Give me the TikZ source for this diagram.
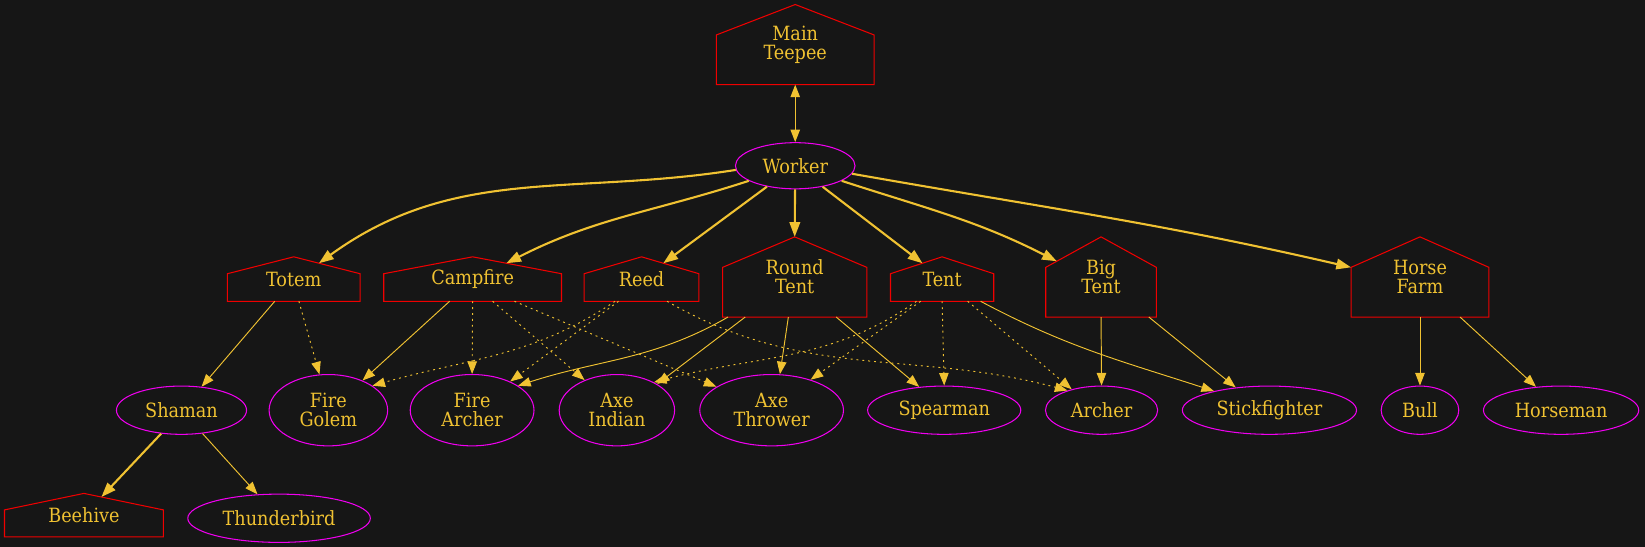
\documentclass[tikz,border=0pt]{standalone}
\usepackage{fontspec}
\setmainfont{DejaVu Serif Condensed}
\usepackage{tikz}
\usetikzlibrary{arrows.meta,shapes.geometric,calc}
\definecolor{canvas}{HTML}{161616}
\definecolor{roofred}{HTML}{F00000}
\definecolor{unitpink}{HTML}{F000F0}
\definecolor{gold}{HTML}{F0C232}
\tikzset{
  building/.style={align=center, inner sep=0pt, text=gold},
  house/.style={draw=roofred, line width=1pt},
  unit/.style={ellipse, draw=unitpink, line width=1pt, align=center, inner sep=0pt, text=gold},
  arrow/.style={-{Triangle[length=12pt,width=9pt]}, line width=0.9pt, draw=gold},
  thickarrow/.style={-{Triangle[length=14pt,width=10pt]}, line width=2pt, draw=gold},
  dotarrow/.style={arrow, dash pattern=on 1.8pt off 3.8pt}
}
% outline of a building + roof points
\newcommand{\drawhouse}[1]{%
  \coordinate (#1-nw) at ($(#1.south west)!0.62!(#1.north west)$);
  \coordinate (#1-ne) at ($(#1.south east)!0.62!(#1.north east)$);
  \coordinate (#1-l) at ($(#1.north)!0.38!(#1-nw)$);
  \coordinate (#1-r) at ($(#1.north)!0.38!(#1-ne)$);
  \draw[house] (#1.south west) -- (#1-nw) -- (#1.north) -- (#1-ne) -- (#1.south east) -- cycle;}

\begin{document}
\begin{tikzpicture}[x=1pt, y=1pt, font=\fontsize{18.7}{18.5}\selectfont]
  \fill[canvas] (0,0) rectangle (1568,-521);
  \useasboundingbox (0,0) rectangle (1568,-521);

  % buildings
  \node[building, minimum width=150pt, minimum height=76pt] (main) at (758,-42.5) {Main\\Teepee};
  \node[building, minimum width=126pt, minimum height=42pt] (totem) at (280,-266) {Totem};
  \node[building, minimum width=169pt, minimum height=42pt] (campfire) at (450.5,-266) {Campfire};
  \node[building, minimum width=109pt, minimum height=42pt] (reed) at (611.5,-266) {Reed};
  \node[building, minimum width=137pt, minimum height=76pt] (roundtent) at (757.5,-264) {Round\\Tent};
  \node[building, minimum width=98pt, minimum height=42pt] (tent) at (898,-266) {Tent};
  \node[building, minimum width=105pt, minimum height=76pt] (bigtent) at (1049.5,-264) {Big\\Tent};
  \node[building, minimum width=131pt, minimum height=76pt] (horsefarm) at (1353.5,-264) {Horse\\Farm};
  \node[building, minimum width=151pt, minimum height=41pt] (beehive) at (80,-491) {Beehive};
  \foreach \b in {main,totem,campfire,reed,roundtent,tent,bigtent,horsefarm,beehive}
    \drawhouse{\b};

  % units
  \node[unit, minimum width=114pt, minimum height=44pt] (worker) at (758,-158) {Worker};
  \node[unit, minimum width=124pt, minimum height=46pt] (shaman) at (173,-391) {Shaman};
  \node[unit, minimum width=113pt, minimum height=68pt] (firegolem) at (313,-391) {Fire\\Golem};
  \node[unit, minimum width=118pt, minimum height=68pt] (firearcher) at (450,-391) {Fire\\Archer};
  \node[unit, minimum width=110pt, minimum height=68pt] (axeindian) at (588,-391) {Axe\\Indian};
  \node[unit, minimum width=137pt, minimum height=68pt] (axethrower) at (735.5,-391) {Axe\\Thrower};
  \node[unit, minimum width=146pt, minimum height=46pt] (spearman) at (900,-391) {Spearman};
  \node[unit, minimum width=107pt, minimum height=46pt] (archer) at (1050,-391) {Archer};
  \node[unit, minimum width=166pt, minimum height=46pt] (stickfighter) at (1210,-391) {Stickfighter};
  \node[unit, minimum width=74pt, minimum height=46pt] (bull) at (1353.5,-391) {Bull};
  \node[unit, minimum width=148pt, minimum height=46pt] (horseman) at (1488,-391) {Horseman};
  \node[unit, minimum width=174pt, minimum height=46pt] (thunderbird) at (266,-494) {Thunderbird};

  % worker builds
  \draw[{Triangle[length=12pt,width=9pt]}-{Triangle[length=12pt,width=9pt]}, line width=1.2pt, draw=gold] (main) -- (worker);
  \draw[thickarrow] (worker.184) to[out=189,in=36] (totem-r);
  \draw[thickarrow] (worker.198) to[out=198,in=27] (campfire-r);
  \draw[thickarrow] (worker) -- (reed-r);
  \draw[thickarrow] (worker) -- (roundtent.north);
  \draw[thickarrow] (worker) -- (tent-l);
  \draw[thickarrow] (worker.-18) to[out=-18,in=153] ($(bigtent.north)!0.8!(bigtent-nw)$);
  \draw[thickarrow] (worker.-8) to[out=-10,in=167] (horsefarm-nw);

  % trained units and requirements
  \draw[arrow] (totem) -- (shaman);
  \draw[dotarrow] (totem.-77) -- (firegolem.104);
  \draw[arrow] (campfire.224) -- (firegolem.41);
  \draw[dotarrow] (campfire.south) -- (firearcher.north);
  \draw[dotarrow] (campfire.-48) -- (axeindian.137);
  \draw[dotarrow] (campfire.-28) -- (axethrower.157);
  \draw[dotarrow] (reed.220) to[out=214,in=16] (firegolem.29);
  \draw[dotarrow] (reed.224) -- (firearcher.37);
  \draw[dotarrow] (reed.-41) to[out=-30,in=165] (archer.150);
  \draw[arrow] (roundtent.211) to[out=210,in=18] (firearcher.28);
  \draw[arrow] (roundtent.219) -- (axeindian.33);
  \draw[arrow] (roundtent.261) -- (axethrower.77);
  \draw[arrow] (roundtent.-44) -- (spearman.137);
  \draw[dotarrow] (tent.221) to[out=215,in=15] (axeindian.37);
  \draw[dotarrow] (tent.226) -- (axethrower.38);
  \draw[dotarrow] (tent.south) -- (spearman.north);
  \draw[dotarrow] (tent.-41) -- (archer.145);
  \draw[arrow] (tent.-30) to[out=-28,in=162] (stickfighter.161);
  \draw[arrow] (bigtent.south) -- (archer.north);
  \draw[arrow] (bigtent.-40) -- (stickfighter.146);
  \draw[arrow] (horsefarm.south) -- (bull.north);
  \draw[arrow] (horsefarm.-45) -- (horseman.137);
  \draw[thickarrow] (shaman.229) -- ($(beehive.north)!0.22!(beehive-ne)$);
  \draw[arrow] (shaman.-48) -- (thunderbird.132);
\end{tikzpicture}
\end{document}
